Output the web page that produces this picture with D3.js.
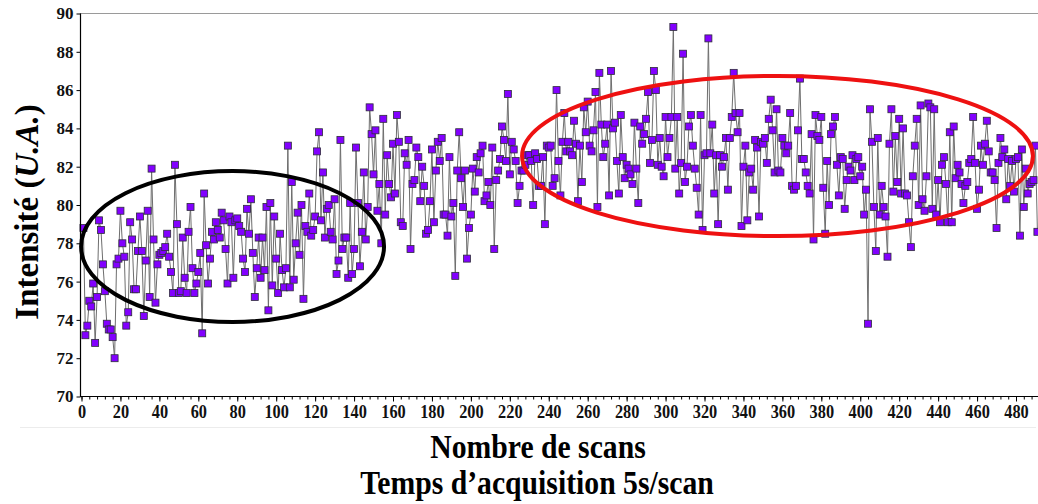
<!DOCTYPE html>
<html><head><meta charset="utf-8">
<script src="https://cdn.jsdelivr.net/npm/d3@7"></script>
<style>html,body{margin:0;padding:0;background:#fff}svg{display:block}</style>
</head><body><svg id="c" width="1038" height="504"></svg>
<script>
// Intensity (U.A.) for scans 1..491
const intensity = [
78.8,73.2,73.7,75.0,74.7,75.9,72.8,75.2,79.2,78.7,
76.9,75.5,73.8,73.5,73.5,73.1,72.0,76.9,77.2,79.7,
78.0,77.3,73.7,74.4,79.1,78.2,75.6,75.6,77.6,79.4,
77.6,74.2,77.1,79.7,75.2,81.9,78.2,74.9,76.9,77.4,
77.5,77.6,77.8,78.5,77.3,76.5,75.4,82.1,79.0,
75.4,75.5,78.3,76.2,75.4,78.6,79.9,76.7,75.4,75.9,76.5,77.5,73.3,80.6,77.9,75.9,77.2,78.6,78.2,79.1,
78.7,78.3,79.6,79.2,77.7,75.9,79.4,79.1,76.2,79.2,79.3,78.9,78.6,77.2,76.5,79.8,78.5,80.3,77.5,75.2,
76.7,78.3,76.2,78.3,76.6,79.9,74.5,80.1,
75.8,79.4,77.2,75.4,78.5,76.6,75.7,76.7,83.1,75.7,81.2,76.1,78.0,79.6,77.4,80.0,75.1,78.9,78.6,80.6,
78.4,78.7,79.4,82.8,83.8,79.2,81.7,78.3,79.8,80.0,78.6,78.2,80.3,76.4,77.1,83.4,77.7,78.3,78.3,76.2,
80.1,76.4,77.7,83.0,80.1,76.8,78.6,81.7,78.2,
79.9,85.1,83.7,81.6,83.9,79.7,81.1,78.0,84.5,79.5,82.6,81.1,80.4,83.2,80.6,84.7,83.3,79.1,78.9,82.7,
82.1,83.4,77.7,81.1,81.3,83.0,82.5,80.2,82.0,81.0,78.5,78.7,80.2,82.9,79.1,81.8,83.3,82.3,83.5,79.5,
79.5,78.4,82.5,79.4,80.1,76.3,81.8,83.8,81.4,
79.9,81.8,77.2,78.8,79.5,81.9,80.7,82.5,81.7,82.7,83.1,80.2,80.5,81.2,80.0,83.0,77.7,81.3,81.8,82.4,
84.1,83.4,82.3,85.8,81.6,83.3,82.9,82.3,80.1,81.0,81.8,81.8,82.1,82.6,82.6,82.3,80.0,82.7,82.4,81.0,
81.0,82.5,79.0,83.1,83.0,83.1,81.0,81.4,86.0,
82.3,80.5,83.3,84.8,82.8,83.3,82.8,82.6,84.4,83.2,80.2,83.1,81.2,85.1,83.8,85.4,83.1,82.8,83.9,85.9,
79.9,86.9,84.2,82.5,83.2,84.2,80.5,87.0,84.0,84.3,82.3,80.6,84.7,82.5,81.4,82.1,81.9,81.6,81.1,84.3,
81.9,80.1,84.1,83.2,83.7,84.5,85.9,82.2,83.4,
87.0,86.0,82.1,83.5,82.0,81.5,84.6,82.5,83.5,84.6,89.3,81.9,84.6,80.6,82.2,87.9,81.2,82.0,84.1,84.7,
83.1,81.9,80.9,79.5,84.7,78.7,82.6,82.7,88.7,82.7,84.2,80.6,82.6,79.0,82.6,82.0,82.5,83.5,80.8,83.5,
84.6,86.9,84.8,83.8,84.8,78.9,82.0,83.1,79.2,
81.7,81.9,80.8,83.4,83.0,79.4,83.3,83.2,83.5,82.2,84.5,85.5,83.9,81.7,85.0,81.8,81.7,83.5,83.1,82.7,
83.1,84.8,81.0,80.8,81.0,83.9,86.6,82.4,82.4,81.7,81.0,80.6,83.7,78.2,84.7,83.6,83.4,84.6,80.9,78.5,
82.3,80.0,83.7,84.1,84.6,82.1,80.5,82.5,
82.4,79.8,81.3,82.0,81.8,82.6,81.3,82.4,82.5,81.5,82.0,79.5,80.8,73.8,85.0,83.3,79.9,77.6,83.5,79.5,
81.0,79.9,79.4,77.3,83.2,85.0,80.7,83.6,81.2,84.5,80.6,84.0,80.6,80.5,79.1,77.8,81.5,83.1,84.5,80.0,
85.2,80.3,79.7,81.5,85.3,85.1,79.8,85.0,
79.5,81.3,79.1,82.1,82.5,81.1,79.1,83.8,79.1,84.1,81.4,82.1,81.7,81.1,80.1,81.0,81.2,82.2,82.4,84.6,
82.2,79.8,80.8,83.1,82.1,83.2,84.4,82.8,81.7,81.7,81.3,78.8,82.2,83.5,82.5,82.9,80.3,82.4,81.0,82.3,
80.7,82.4,82.5,78.4,82.9,79.9,81.9,80.6,81.1,81.2,81.3,83.1,78.6
];
const firstScan = 1;
const xTicks = [0,20,40,60,80,100,120,140,160,180,200,220,240,260,280,300,320,340,360,380,400,420,440,460,480];
const yTicks = [70,72,74,76,78,80,82,84,86,88,90];
// annotation ellipses (data units): centre scan, centre intensity, half-width (scans), half-height (intensity)
const ellipseScan = [77.6, 357.5];
const ellipseValue = [77.83, 82.56];
const ellipseRx = [77.8, 131.2];
const ellipseRy = [3.94, 4.18];
const ellipseColor = ["#000000", "#ee1111"];

const svg = d3.select("#c");
const FONT = "'Liberation Serif','Times New Roman',serif";
svg.append("rect").attr("width",1038).attr("height",504).attr("fill","#fff");

const x = d3.scaleLinear().domain([0,480]).range([81.5,1016]);
const y = d3.scaleLinear().domain([70,90]).range([396.5,13.5]);

// faint frame line under axis labels
svg.append("line").attr("x1",20).attr("x2",1036).attr("y1",427.5).attr("y2",427.5).attr("stroke","#ececec");

// top border
svg.append("line").attr("x1",80).attr("x2",1038).attr("y1",13.5).attr("y2",13.5).attr("stroke","#9a9a9a").attr("stroke-width",1);

const data = intensity.map((v,i)=>({s:firstScan+i, v}));

svg.append("defs").append("clipPath").attr("id","pc").append("rect")
  .attr("x",79).attr("y",0).attr("width",959).attr("height",400);

const g = svg.append("g").attr("clip-path","url(#pc)");
g.append("path").datum(data)
  .attr("d", d3.line().x(d=>x(d.s)).y(d=>y(d.v)))
  .attr("fill","none").attr("stroke","#6e6e6e").attr("stroke-width",1);
g.selectAll("rect.m").data(data).join("rect").attr("class","m")
  .attr("x",d=>x(d.s)-3.5).attr("y",d=>y(d.v)-3.5).attr("width",7).attr("height",7)
  .attr("fill","#8200ff").attr("stroke","#2e2e3a").attr("stroke-width",0.8);

// axes
const xa = svg.append("g").attr("transform","translate(0,396.5)")
  .call(d3.axisBottom(x).tickValues(xTicks).tickSize(5).tickPadding(3).tickFormat(d3.format("d")));
xa.select(".domain").remove();
xa.selectAll("line").attr("stroke","#000");
xa.selectAll("text").attr("font-family",FONT).attr("font-weight","bold").attr("font-size",19)
  .attr("fill","#111").attr("transform","scale(0.86,1)");
const xm = svg.append("g").attr("transform","translate(0,396.5)")
  .call(d3.axisBottom(x).tickValues(d3.range(0,492,4)).tickSize(3).tickFormat(""));
xm.select(".domain").remove();
xm.selectAll("line").attr("stroke","#000");
svg.append("line").attr("x1",80).attr("x2",1038).attr("y1",396.5).attr("y2",396.5).attr("stroke","#000").attr("stroke-width",1.2);

const ya = svg.append("g").attr("transform","translate(80.5,0)")
  .call(d3.axisLeft(y).tickValues(yTicks).tickSize(4).tickPadding(3));
ya.select(".domain").remove();
ya.selectAll("line").attr("stroke","#000");
ya.selectAll("text").attr("font-family",FONT).attr("font-weight","bold").attr("font-size",17).attr("fill","#111");
svg.append("line").attr("x1",80.5).attr("x2",80.5).attr("y1",13.5).attr("y2",397).attr("stroke","#000").attr("stroke-width",1.2);

// ellipses
ellipseScan.forEach((s,i)=>{
  svg.append("ellipse")
    .attr("cx",x(s)).attr("cy",y(ellipseValue[i]))
    .attr("rx",x(s+ellipseRx[i])-x(s)).attr("ry",y(ellipseValue[i]-ellipseRy[i])-y(ellipseValue[i]))
    .attr("fill","none").attr("stroke",ellipseColor[i]).attr("stroke-width",4);
});

// titles
svg.append("text").attr("transform","translate(538,458) scale(0.9,1)").attr("text-anchor","middle")
  .attr("font-family",FONT).attr("font-weight","bold").attr("font-size",33).attr("fill","#000")
  .text("Nombre de scans");
svg.append("text").attr("transform","translate(537,494) scale(0.9,1)").attr("text-anchor","middle")
  .attr("font-family",FONT).attr("font-weight","bold").attr("font-size",33).attr("fill","#000")
  .text("Temps d\u2019acquisition 5s/scan");
const yt = svg.append("text").attr("transform","translate(38,212) rotate(-90)").attr("text-anchor","middle")
  .attr("font-family",FONT).attr("font-weight","bold").attr("font-size",33).attr("fill","#000");
yt.append("tspan").text("Intensit\u00e9 (");
yt.append("tspan").attr("font-style","italic").text("U.A.");
yt.append("tspan").text(")");
</script></body></html>
